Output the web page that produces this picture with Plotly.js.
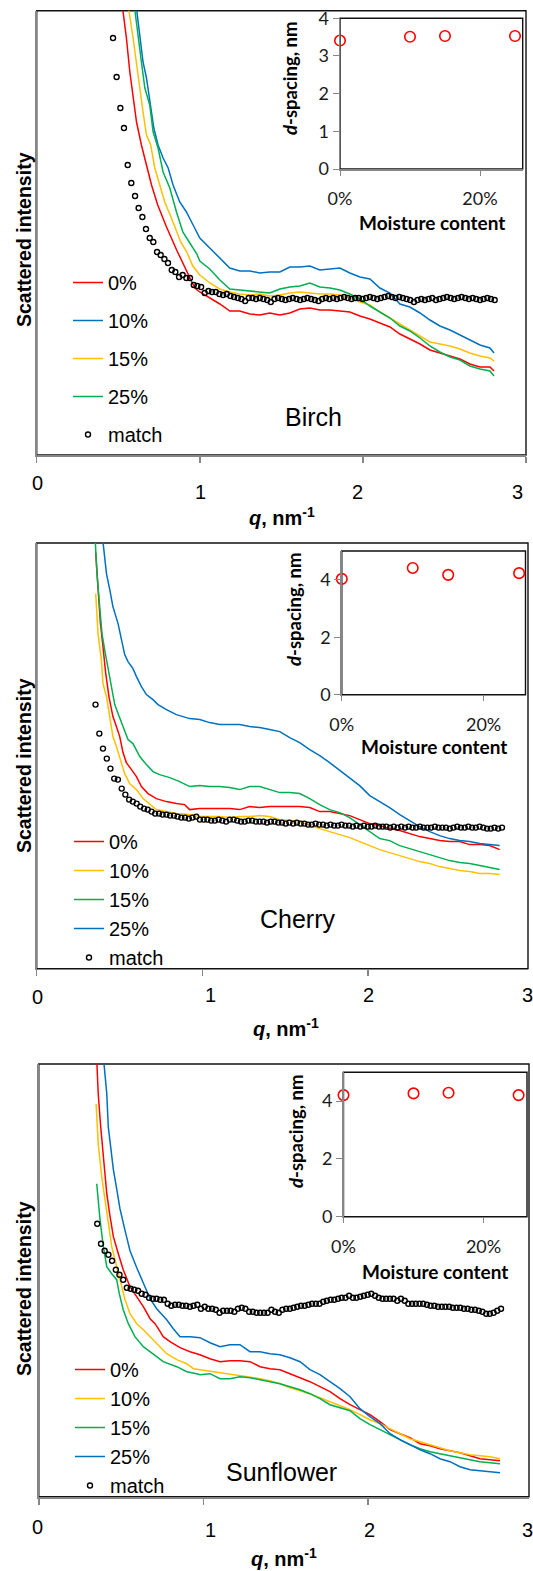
<!DOCTYPE html>
<html>
<head>
<meta charset="utf-8">
<script src="https://cdn.plot.ly/plotly-3.0.1.min.js"></script>
<style>
html,body{margin:0;padding:0;background:#ffffff;}
#chart{width:533px;height:1571px;}
</style>
</head>
<body>
<div id="chart"></div>
<script>
// ---------------- DATA ----------------
// Scattered intensity (arbitrary units) vs q (nm^-1)
const seriesNames = ['0%', '10%', '15%', '25%', 'match'];
const qTickLabels = ['0', '1', '2', '3'];
const qTickValues = [0, 1, 2, 3];
const moisture = [0, 0.10, 0.15, 0.25];
const birchD = [3.41, 3.51, 3.53, 3.53];
const cherryD = [4.03, 4.41, 4.17, 4.23];
const sunflowerD = [4.21, 4.27, 4.29, 4.21];

// shared q grid of the "match" curves
const matchQ = [0.355,0.378,0.400,0.423,0.445,0.468,0.490,0.513,0.535,0.558,0.580,0.603,0.625,0.648,0.670,0.693,0.715,0.738,0.760,0.783,
0.805,0.828,0.850,0.873,0.895,0.918,0.940,0.963,0.985,1.008,1.030,1.053,1.075,1.098,1.120,1.143,1.165,1.188,1.210,1.233,
1.255,1.278,1.300,1.323,1.345,1.368,1.390,1.413,1.435,1.458,1.480,1.503,1.525,1.548,1.570,1.593,1.615,1.638,1.660,1.683,
1.705,1.728,1.750,1.773,1.795,1.818,1.840,1.863,1.885,1.908,1.930,1.953,1.975,1.998,2.020,2.043,2.065,2.088,2.110,2.133,
2.155,2.178,2.200,2.223,2.245,2.268,2.290,2.313,2.335,2.358,2.380,2.403,2.425,2.448,2.470,2.493,2.515,2.538,2.560,2.583,
2.605,2.628,2.650,2.673,2.695,2.718,2.740,2.763,2.785,2.808];

// ---- Birch ----
const birchTailQ = [1.000,1.061,1.123,1.184,1.245,1.307,1.368,1.429,1.491,1.552,1.613,1.675,1.736,1.798,1.859,1.920,1.982,2.043,2.104,2.166,2.227,2.288,2.350,2.411,2.472,2.534,2.595,2.656,2.718,2.779,2.804];
const birchHeadQ0 = [0.497,0.528,0.550,0.571,0.591,0.612,0.642,0.673,0.704,0.742,0.796,0.858,0.920,0.969];
const birchI0 = [485,444,417,383,357,333,310,290,270,250,228,205,183,167,
 163,157,151,144,144,141,140,142,140,142,146,147,145,145,144,143,139,136,132,128,121,116,111,105,102,99,96,91,88,88,84];
const birchHeadQ10 = [0.583,0.612,0.632,0.652,0.673,0.693,0.718,0.744,0.775,0.806,0.836,0.877,0.918,0.959];
const birchI10 = [485,444,417,393,377,353,327,310,297,287,270,253,243,230,
 217,207,197,187,184,184,182,183,183,188,188,189,185,186,187,182,178,176,167,162,151,148,142,135,129,125,120,115,110,107,102];
const birchHeadQ15 = [0.540,0.566,0.591,0.612,0.632,0.652,0.673,0.699,0.724,0.755,0.785,0.826,0.857,0.883,0.920,0.957];
const birchI15 = [485,444,417,390,367,343,320,310,287,270,253,237,223,213,203,189,
 180,172,166,163,161,160,161,159,160,162,163,162,161,161,160,157,153,150,143,137,131,125,119,113,111,109,106,102,99,97,94];
const birchHeadQ25 = [0.571,0.601,0.622,0.642,0.663,0.693,0.714,0.744,0.775,0.816,0.857,0.896,0.939,0.982];
const birchI25 = [485,444,417,393,367,350,323,307,283,267,243,223,212,201,
 194,186,175,166,165,164,163,162,166,168,169,172,168,167,165,161,156,149,143,137,129,124,117,109,103,98,95,89,86,84,79];
const birchMatch = [417,378,347,327,290,272,259,247,238,226,217,213,203,200,196,192,185,183,178,180,
 177,177,170,169,168,162,164,163,163,161,160,161,159,158,157,156,154,157,157,156,
 157,156,155,153,156,157,156,155,156,157,156,155,156,157,156,155,154,156,157,156,
 157,156,157,158,157,156,157,157,156,157,158,157,156,157,158,159,158,157,158,157,
 156,155,153,155,156,155,156,157,155,156,157,158,157,156,157,158,157,156,157,156,
 155,156,157,156,155];

// ---- Cherry ----
const cherryTailQ = [0.984,1.044,1.104,1.165,1.225,1.285,1.346,1.406,1.467,1.527,1.587,1.648,1.708,1.768,1.829,1.889,1.949,2.010,2.070,2.130,2.191,2.251,2.311,2.372,2.432,2.492,2.553,2.613,2.674,2.734,2.794];
const cherryHeadQ0 = [0.356,0.370,0.384,0.400,0.416,0.436,0.460,0.481,0.501,0.521,0.541,0.572,0.602,0.632,0.672,0.722,0.783,0.843,0.893,0.923];
const cherryI0 = [416,379,346,322,296,272,252,242,232,216,206,199,192,182,175,170,167,165,164,159,
 160,160,160,160,159,162,161,162,162,162,162,161,157,157,155,153,149,145,143,140,138,135,132,130,128,127,127,124,124,123,119];
const cherryHeadQ10 = [0.356,0.370,0.390,0.400,0.421,0.441,0.460,0.481,0.511,0.531,0.561,0.602,0.642,0.682,0.722,0.783,0.843,0.923];
const cherryI10 = [375,335,309,285,272,249,232,222,205,195,185,179,170,164,159,157,155,154,
 152,152,152,151,152,152,153,152,149,148,147,143,140,137,134,131,127,123,119,116,113,110,107,105,102,100,98,97,95,95,94];
const cherryHeadQ15 = [0.353,0.364,0.380,0.394,0.410,0.430,0.451,0.471,0.491,0.521,0.551,0.581,0.622,0.662,0.702,0.742,0.803,0.863,0.923];
const cherryI15 = [429,395,362,335,319,302,282,264,255,242,229,225,212,204,197,194,191,187,182,
 183,182,182,181,179,182,182,179,176,176,175,170,164,159,156,151,144,137,130,128,123,120,117,114,111,108,106,105,103,101,99];
const cherryHeadQ25 = [0.392,0.400,0.421,0.441,0.460,0.491,0.511,0.531,0.551,0.581,0.602,0.632,0.662,0.702,0.732,0.783,0.843,0.923];
const cherryI25 = [439,426,395,379,362,345,329,314,307,300,292,282,274,269,264,259,254,250,
 249,246,244,244,244,242,241,239,237,231,226,219,213,206,198,190,183,173,167,161,154,148,142,137,133,130,128,127,125,124,123];
const cherryMatch = [264,235,220,210,200,190,189,180,174,169,167,165,162,160,159,157,155,155,154,154,
 153,153,152,151,151,150,151,152,149,149,149,148,148,149,148,147,149,149,148,147,
 147,148,148,147,147,147,146,147,147,146,146,145,146,145,146,145,145,144,144,145,
 144,144,143,144,143,143,144,143,143,142,143,142,143,142,142,143,142,142,142,141,
 142,141,142,141,142,141,141,142,141,141,141,142,141,141,141,140,141,142,141,141,
 142,141,141,142,141,140,140,141,140,141];

// ---- Sunflower ----
const sunflowerTailQ = [0.979,1.040,1.101,1.161,1.222,1.283,1.344,1.404,1.465,1.526,1.587,1.647,1.708,1.769,1.830,1.891,1.951,2.012,2.073,2.134,2.194,2.255,2.316,2.377,2.437,2.498,2.559,2.620,2.680,2.741,2.802];
const sunflowerHeadQ0 = [0.350,0.361,0.376,0.392,0.413,0.433,0.453,0.483,0.513,0.554,0.595,0.635,0.676,0.706,0.726,0.756,0.797,0.858,0.919];
const sunflowerI0 = [445,403,370,337,303,280,260,243,227,210,200,190,178,173,168,160,155,149,145,
 142,138,135,136,136,135,130,128,127,123,119,115,110,105,98,92,87,82,75,67,63,59,53,51,48,46,44,41,38,37,36];
const sunflowerHeadQ10 = [0.348,0.361,0.382,0.402,0.422,0.443,0.463,0.493,0.524,0.554,0.595,0.635,0.696,0.736,0.777,0.838,0.899,0.939];
const sunflowerI10 = [393,353,320,297,273,250,237,217,197,183,173,167,157,150,143,137,133,128,
 127,126,124,123,121,120,118,116,113,109,106,103,99,95,91,87,82,77,73,68,63,58,55,52,49,46,44,42,41,40,38];
const sunflowerHeadQ15 = [0.352,0.372,0.392,0.413,0.443,0.473,0.489,0.513,0.544,0.584,0.635,0.696,0.756,0.838,0.899,0.959];
const sunflowerI15 = [313,277,250,230,223,217,203,187,173,160,150,142,135,130,125,123,
 122,123,118,118,120,119,117,115,113,110,107,103,98,92,89,86,78,72,67,62,57,52,48,45,43,41,39,37,35,34,33];
const sunflowerHeadQ25 = [0.392,0.413,0.422,0.437,0.453,0.473,0.493,0.524,0.554,0.595,0.635,0.676,0.716,0.777,0.817,0.858,0.919];
const sunflowerI25 = [440,403,370,350,327,308,288,266,246,229,213,198,188,177,168,160,160,
 159,154,150,152,152,145,145,143,142,139,135,127,122,115,108,100,88,80,73,63,57,52,47,43,38,35,30,27,26,25,24];
const sunflowerMatch = [273,253,246,242,236,227,222,217,209,208,207,206,203,202,199,198,198,197,197,193,
 191,192,192,191,191,190,191,192,188,190,188,188,187,184,186,186,186,185,188,189,
 188,185,185,184,184,184,184,187,185,184,187,188,188,189,190,191,191,192,193,193,
 193,195,196,197,197,198,199,199,201,199,199,200,201,202,203,201,199,198,198,198,
 198,196,198,196,193,193,193,193,193,192,191,191,190,190,190,190,189,189,189,188,
 188,187,187,186,185,183,183,184,186,188];

// ---------------- STYLE / LAYOUT ----------------
const W = 533, H = 1571;
const fx = p => p / W;
const fy = p => 1 - p / H;
const FM = 'Liberation Sans, Arial, sans-serif';
const FI = 'Lato, Calibri, sans-serif';
const GRAY = '#868686';
const RED = '#FF0000', BLUE = '#0070C0', YEL = '#FFC000', GRN = '#00B050';

const panels = [
  {label:'Birch', xa:'x', ya:'y', ixa:'x2', iya:'y2', leg:'legend',
   L:36.7, R:526, T:10.7, B:455, xmax:3.0, ymax:444.3,
   tickPos:[[37.4,483.3],[200.7,491.7],[357.8,491.7],[517.7,491.7]],
   iL:340, iR:522.7, iT:18.3, iB:169, ixmax:0.261, iymax:4, iyt:[0,1,2,3,4], ixso:8,
   heads:[birchHeadQ0,birchHeadQ10,birchHeadQ15,birchHeadQ25],
   vals:[birchI0,birchI10,birchI15,birchI25], tail:birchTailQ,
   colors:[RED,BLUE,YEL,GRN], match:birchMatch, matchStart:5, d:birchD,
   ytitle:[24,240], xtitle:[282,516], dtitle:[290,79], mtitle:[432,223], name:[313,417],
   legXY:[68,263], gap:9},
  {label:'Cherry', xa:'x3', ya:'y3', ixa:'x4', iya:'y4', leg:'legend2',
   L:36.7, R:528, T:543, B:968.6, xmax:2.965, ymax:425.6,
   tickPos:[[37.4,996.7],[210.9,995],[368.4,995],[527.5,995]],
   iL:341.8, iR:525.5, iT:551, iB:694.7, ixmax:0.259, iymax:5, iyt:[0,2,4], ixso:8,
   heads:[cherryHeadQ0,cherryHeadQ10,cherryHeadQ15,cherryHeadQ25],
   vals:[cherryI0,cherryI10,cherryI15,cherryI25], tail:cherryTailQ,
   colors:[RED,YEL,GRN,BLUE], match:cherryMatch, matchStart:0, d:cherryD,
   ytitle:[24,766], xtitle:[286,1027], dtitle:[294,610], mtitle:[434,746.5], name:[298,919],
   legXY:[69,822], gap:0},
  {label:'Sunflower', xa:'x5', ya:'y5', ixa:'x6', iya:'y6', leg:'legend3',
   L:38.8, R:529, T:1064, B:1496.7, xmax:2.978, ymax:432.7,
   tickPos:[[37.4,1526.7],[210.9,1530],[369,1530],[527.5,1530]],
   iL:343.5, iR:527, iT:1072.3, iB:1216.7, ixmax:0.262, iymax:5, iyt:[0,2,4], ixso:8,
   heads:[sunflowerHeadQ0,sunflowerHeadQ10,sunflowerHeadQ15,sunflowerHeadQ25],
   vals:[sunflowerI0,sunflowerI10,sunflowerI15,sunflowerI25], tail:sunflowerTailQ,
   colors:[RED,YEL,GRN,BLUE], match:sunflowerMatch, matchStart:0, d:sunflowerD,
   ytitle:[24,1289], xtitle:[284,1557], dtitle:[296,1132], mtitle:[435,1271.7], name:[281.5,1471.7],
   legXY:[70,1350], gap:0}
];

const data = [];
const layout = {
  width: W, height: H,
  margin: {l:0, r:0, t:0, b:0, pad:0},
  paper_bgcolor: '#ffffff', plot_bgcolor: 'rgba(0,0,0,0)',
  font: {family: FM, color: '#000000'},
  showlegend: true,
  shapes: [], annotations: []
};

function axKey(a) { return (a[0] === 'x' ? 'xaxis' : 'yaxis') + a.slice(1); }

panels.forEach((p, pi) => {
  // main lines
  for (let s = 0; s < 4; s++) {
    data.push({
      type: 'scatter', mode: 'lines',
      x: p.heads[s].concat(p.tail), y: p.vals[s],
      name: seriesNames[s], line: {color: p.colors[s], width: 1.5},
      xaxis: p.xa, yaxis: p.ya, legend: p.leg,
      legendgroup: p.gap ? ('g' + pi + '_' + s) : undefined,
      hoverinfo: 'skip'
    });
  }
  data.push({
    type: 'scatter', mode: 'markers',
    x: matchQ.slice(p.matchStart), y: p.match, name: seriesNames[4],
    marker: {symbol: 'circle-open', size: 5, color: '#000000', line: {width: 1.4, color: '#000000'}},
    xaxis: p.xa, yaxis: p.ya, legend: p.leg,
    legendgroup: p.gap ? ('g' + pi + '_4') : undefined,
    hoverinfo: 'skip'
  });
  // inset
  data.push({
    type: 'scatter', mode: 'markers', x: moisture, y: p.d,
    marker: {symbol: 'circle-open', size: 10.5, color: RED, line: {width: 1.6, color: RED}},
    xaxis: p.ixa, yaxis: p.iya, showlegend: false, cliponaxis: false, hoverinfo: 'skip'
  });

  layout[axKey(p.xa)] = {
    domain: [fx(p.L), fx(p.R)], range: [0, p.xmax], anchor: p.ya,
    showline: true, linecolor: GRAY, linewidth: 1.8, showgrid: false, zeroline: false,
    ticks: 'outside', ticklen: 6, tickwidth: 1.5, tickcolor: GRAY,
    tickvals: qTickValues, showticklabels: false, fixedrange: true
  };
  layout[axKey(p.ya)] = {
    domain: [fy(p.B), fy(p.T)], range: [0, p.ymax], anchor: p.xa,
    showline: true, linecolor: GRAY, linewidth: 1.8, showgrid: false, zeroline: false,
    showticklabels: false, ticks: '', fixedrange: true
  };
  layout[axKey(p.ixa)] = {
    domain: [fx(p.iL), fx(p.iR)], range: [0, p.ixmax], anchor: p.iya,
    showline: true, linecolor: GRAY, linewidth: 1.5, showgrid: false, zeroline: false,
    ticks: 'outside', ticklen: 5, tickcolor: GRAY, tickvals: [0, 0.2], tickformat: '.0%',
    tickfont: {family: FI, size: 18, color: '#1a1a1a'}, ticklabelstandoff: p.ixso, fixedrange: true
  };
  layout[axKey(p.iya)] = {
    domain: [fy(p.iB), fy(p.iT)], range: [0, p.iymax], anchor: p.ixa,
    showline: true, linecolor: GRAY, linewidth: 1.5, showgrid: false, zeroline: false,
    ticks: 'outside', ticklen: 6, tickcolor: GRAY, tickvals: p.iyt,
    tickfont: {family: FI, size: 18, color: '#1a1a1a'}, fixedrange: true
  };

  // frames
  layout.shapes.push({type:'rect', xref:'paper', yref:'paper', layer:'below',
    x0: fx(p.L), x1: fx(p.R), y0: fy(p.B), y1: fy(p.T), line:{color:'#111', width:1.4}, fillcolor:'rgba(0,0,0,0)'});
  layout.shapes.push({type:'rect', xref:'paper', yref:'paper', layer:'below',
    x0: fx(p.iL), x1: fx(p.iR), y0: fy(p.iB), y1: fy(p.iT), line:{color:'#111', width:1.4}, fillcolor:'#ffffff'});

  const ann = (xy, text, font, extra) => layout.annotations.push(Object.assign({
    xref:'paper', yref:'paper', x: fx(xy[0]), y: fy(xy[1]), text: text, showarrow:false,
    xanchor:'center', yanchor:'middle', font: font}, extra || {}));
  ann(p.ytitle, '<b>Scattered intensity</b>', {family: FM, size: 19.5, color:'#000'}, {textangle: -90});
  ann(p.xtitle, '<b><i>q</i>, nm<sup>-1</sup></b>', {family: FM, size: 20, color:'#000'});
  ann(p.dtitle, '<b><i>d</i>-spacing, nm</b>', {family: FI, size: 18.5, color:'#000'}, {textangle: -90});
  ann(p.mtitle, '<b>Moisture content</b>', {family: FI, size: 19, color:'#000'});
  ann(p.name, p.label, {family: FM, size: 25, color:'#000'});
  qTickLabels.forEach((t, k) => ann(p.tickPos[k], t, {family: FM, size: 20, color:'#000'}));

  layout[p.leg] = {
    x: fx(p.legXY[0]), y: fy(p.legXY[1]), xanchor:'left', yanchor:'top',
    bgcolor:'rgba(0,0,0,0)', borderwidth:0, font:{family: FM, size: 20, color:'#000'},
    tracegroupgap: p.gap, orientation:'v'
  };
});

Plotly.newPlot('chart', data, layout, {staticPlot: true, displayModeBar: false});
</script>
</body>
</html>
